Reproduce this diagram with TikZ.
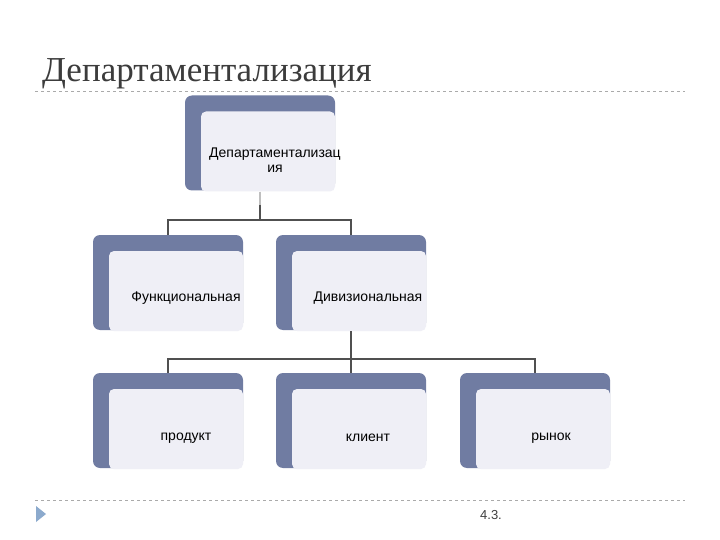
\documentclass[tikz,border=0pt]{standalone}
\usepackage{fontspec}
\setmainfont{Liberation Sans}
\newfontfamily\titlefont{Liberation Serif}
\usetikzlibrary{calc}
\definecolor{darkbox}{RGB}{112,124,162}
\definecolor{lightbox}{RGB}{239,239,246}
\definecolor{titlegray}{RGB}{60,60,60}
\definecolor{conncol}{RGB}{80,80,80}
\definecolor{dashcol}{RGB}{170,170,170}
\definecolor{markcol}{RGB}{140,170,205}
\tikzset{
  backbox/.style={fill=darkbox, rounded corners=7pt, minimum width=150pt, minimum height=95pt, inner sep=0pt, draw=none},
  frontbox/.style={fill=lightbox, rounded corners=5pt, minimum width=134pt, minimum height=80pt, inner sep=0pt, draw=none},
  boxtext/.style={font=\fontsize{14}{15.5}\selectfont, text=black, align=center, inner sep=0pt},
  conn/.style={draw=conncol, line width=1.2pt},
  sep/.style={draw=dashcol, dashed, line width=0.6pt}
}
\begin{document}
\begin{tikzpicture}[x=1pt,y=-1pt]
\useasboundingbox (0,0) rectangle (720,540);
\fill[white] (0,0) rectangle (720,540);
% title
\node[anchor=base west, inner sep=0pt, font=\titlefont\fontsize{35}{38}\selectfont, text=titlegray] (title) at (42,82) {Департаментализация};
\draw[sep] (35,91) -- (685,91);
\draw[sep] (35,500) -- (685,500);
\fill[markcol] (36,506) -- (46,514) -- (36,522) -- cycle;
\node[anchor=center, inner sep=0pt, font=\fontsize{13}{15}\selectfont, text=black!75] (pnum) at (491,515) {4.3.};
% top
\node[backbox] (top) at (260,143) {};
\node[frontbox, anchor=south east] (topf) at ($(top.south east)+(0,1)$) {};
\node[boxtext] (toptx) at (275,160) {Департаментализац\\ия};
% level 2
\node[backbox] (func) at (168,282.5) {};
\node[frontbox, anchor=south east] (funcf) at ($(func.south east)+(0,1)$) {};
\node[boxtext] (functx) at (186,298) {Функциональная};
\node[backbox] (div) at (351,282.5) {};
\node[frontbox, anchor=south east] (divf) at ($(div.south east)+(0,1)$) {};
\node[boxtext] (divtx) at (368,298) {Дивизиональная};
% level 3
\node[backbox] (prod) at (168,420.5) {};
\node[frontbox, anchor=south east] (prodf) at ($(prod.south east)+(0,1)$) {};
\node[boxtext] (prodtx) at (186,438) {продукт};
\node[backbox] (cli) at (351,420.5) {};
\node[frontbox, anchor=south east] (clif) at ($(cli.south east)+(0,1)$) {};
\node[boxtext] (clitx) at (368,438) {клиент};
\node[backbox] (mkt) at (535,420.5) {};
\node[frontbox, anchor=south east] (mktf) at ($(mkt.south east)+(0,1)$) {};
\node[boxtext] (mkttx) at (551,438) {рынок};
% connectors
\coordinate (j1) at (260,220);
\coordinate (j1a) at (260,205);
\coordinate (j2) at (351,359);
\draw[draw=black!25, line width=1.2pt] (topf.south -| top.south) -- (j1a);
\draw[conn] (j1a) -- (j1);
\draw[conn] (func.north) |- (j1);
\draw[conn] (div.north) |- (j1);
\draw[conn] (divf.south -| div.south) -- (j2);
\draw[conn] (prod.north) |- (j2);
\draw[conn] (cli.north) -- (j2);
\draw[conn] (mkt.north) |- (j2);
\end{tikzpicture}
\end{document}
